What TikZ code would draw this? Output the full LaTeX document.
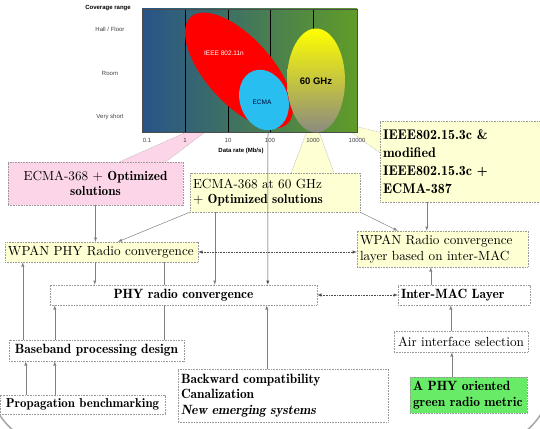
\documentclass[tikz,border=0pt]{standalone}
\usepackage{fontspec}
\setmainfont{lmroman10-regular.otf}[BoldFont=lmromandemi10-regular.otf, ItalicFont=lmroman10-italic.otf,
    BoldItalicFont=lmromandemi10-oblique.otf]
\newfontfamily\chartfont{Liberation Sans}
\usepackage{tikz}
\usetikzlibrary{calc,shapes,arrows}
\definecolor{pinkfill}{RGB}{252,214,232}
\definecolor{yellowfill}{RGB}{255,255,212}
\definecolor{greenfill}{RGB}{104,236,104}
\definecolor{chartleft}{RGB}{40,84,138}
\definecolor{chartright}{RGB}{96,156,40}
\definecolor{ecmablue}{RGB}{40,190,240}
\tikzset{
    box/.style={draw=gray!80, dash pattern=on 0.8pt off 0.8pt, fill=white, inner xsep=3pt, inner ysep=2pt,
        font=\fontsize{13.2}{15.5}\selectfont},
    bbox/.style={box, font=\fontsize{13.4}{15.5}\selectfont\bfseries},
    pointer/.style={draw=gray!70, dash pattern=on 0.8pt off 0.8pt},
    charttext/.style={font=\chartfont\fontsize{6}{7}\selectfont, text=black!75},
    link/.style={draw=gray, line width=0.5pt, -latex},
    plain/.style={draw=gray, line width=0.5pt},
    dlink/.style={draw=gray!60!black, line width=0.5pt, dash pattern=on 0.8pt off 0.8pt, latex-latex}
}
\begin{document}
\begin{tikzpicture}[x=1pt, y=-1pt]
        \useasboundingbox (0,0) rectangle (540,428);
        \draw[gray!70, line width=1.5pt, rounded corners=64pt] (-10,300) -- (-10,445) -- (550,445) -- (550,300);
        \filldraw[pointer, fill=pinkfill] (110,166) -- (232,112) -- (160,166) -- cycle;
        \filldraw[pointer, fill=yellowfill] (290,176) -- (313,115) -- (335,176) -- cycle;
        \filldraw[pointer, fill=yellowfill] (383,133) -- (337,122) -- (383,155) -- cycle;
        \shade[left color=chartleft, right color=chartright] (142,9) rectangle (357,132);
        \foreach \x in {185, 228, 270, 313}
        \draw[black] (\x,9) -- (\x,132);
        \draw[black!70] (142,9) rectangle (357,132);
        \fill[red, rotate around={-48:(239,70.5)}] (239,70.5) ellipse [x radius=72pt, y radius=33pt];
        \fill[ecmablue, rotate around={20:(264,100)}] (264,100) ellipse [x radius=24pt, y radius=31pt];
        \shade[top color=yellow, bottom color={rgb,255:red,138;green,138;blue,128}] (316,80.5) ellipse [x radius=29pt, y radius=52pt];
        \node[charttext, text=white, font=\chartfont\fontsize{6.5}{7}\selectfont] (wifi) at (224,53) {IEEE 802.11n};
        \node[charttext, text=black!80!blue, font=\chartfont\fontsize{6.5}{7}\selectfont] (ecmalbl) at (262,102) {ECMA};
        \node[charttext, text=black, font=\chartfont\bfseries\fontsize{9.5}{10}\selectfont] (sixty) at (316,81) {60 GHz};
        \foreach \x/\v in {147/0.1, 185/1, 228/10, 270/100, 313/1000, 357/10000}
        \node[charttext] (tick\x) at (\x,140) {\v};
        \node[charttext, text=black, font=\chartfont\bfseries\fontsize{6}{7}\selectfont] (covrange) at (108,8) {Coverage range};
        \node[charttext] (hall) at (110,29) {Hall / Floor};
        \node[charttext] (room) at (110,73) {Room};
        \node[charttext] (veryshort) at (110,117) {Very short};
        \node[charttext, text=black, font=\chartfont\bfseries\fontsize{6}{7}\selectfont] (datarate) at (241,151) {Data rate (Mb/s)};
        \coordinate (rate100) at (268,132);
        \node[box, fill=pinkfill, text width=169pt, minimum height=43pt, align=center] (ecmaopt) at (95.5,183.5)
            {ECMA-368 + \textbf{Optimized}\\\textbf{solutions}};
        \node[box, fill=yellowfill, text width=164pt, minimum height=39pt, align=left] (ecmasixty) at (275,192.5)
            {ECMA-368 at 60 GHz\\+ \textbf{Optimized solutions}};
        \node[box, fill=yellowfill, text width=158pt, minimum height=81pt, align=left,
            font=\fontsize{14}{18}\selectfont\bfseries] (ieee) at (462,161.5)
            {IEEE802.15.3c \&\\modified\\IEEE802.15.3c +\\ECMA-387};
        \node[box, fill=yellowfill, text width=187pt, minimum height=20pt, align=left] (wpanphy) at (101.5,252)
            {WPAN PHY Radio convergence};
        \node[box, fill=yellowfill, text width=165pt, minimum height=36pt, align=left] (wpanrad) at (442.5,249)
            {WPAN Radio convergence\\layer based on inter-MAC};
        \node[bbox, text width=261pt, minimum height=20pt, align=center] (phyconv) at (183.5,295) {PHY radio convergence};
        \node[bbox, text width=126pt, minimum height=20pt, align=left] (intermac) at (464,295) {Inter-MAC Layer};
        \node[bbox, text width=169pt, minimum height=21pt, align=center] (baseband) at (96.5,350.5) {Baseband processing design};
        \node[bbox, font=\fontsize{12.9}{15.5}\selectfont\bfseries, text width=159pt, minimum height=19pt, align=center]
            (propag) at (82.5,404.5) {Propagation benchmarking};
        \node[bbox, text width=204pt, minimum height=53pt, align=left] (backward) at (283,395.5)
            {Backward compatibility\\Canalization\\\textit{New emerging systems}};
        \node[box, text width=128pt, minimum height=21pt, align=center] (airsel) at (461,341.5) {Air interface selection};
        \node[bbox, fill=greenfill, text width=111pt, minimum height=36pt, align=left] (greenmetric) at (468.5,395)
            {A PHY oriented\\green radio metric};
        \draw[link] (ecmaopt.south) -- (ecmaopt.south |- wpanphy.north);
        \draw[link] (ecmasixty.south west) -- ($(wpanphy.north west)+(113,0)$);
        \draw[link] ($(ecmasixty.south west)+(25,0)$) -- ($(phyconv.north west)+(165,0)$);
        \draw[link, draw=black!70] (rate100) -- ($(phyconv.north west)+(218,0)$);
        \draw[link] (ecmasixty.south east) -- ($(wpanrad.north west)+(41,0)$);
        \draw[link] ($(ieee.south west)+(47,0)$) -- ($(wpanrad.north west)+(70,0)$);
        \draw[dlink] (wpanphy.east) -- (wpanphy.east -| wpanrad.west);
        \draw[link] ($(wpanphy.south west)+(90,0)$) -- ($(phyconv.north west)+(45,0)$);
        \draw[plain] ($(wpanphy.south west)+(159,0)$) -- ($(phyconv.north west)+(114,0)$);
        \draw[plain] ($(phyconv.south west)+(114,0)$) -- ($(baseband.north west)+(155,0)$);
        \draw[link] ($(baseband.north west)+(14,0)$) -- ($(wpanphy.south west)+(18,0)$);
        \draw[link] ($(baseband.north west)+(46,0)$) -- ($(phyconv.south west)+(5,0)$);
        \draw[link] ($(propag.north west)+(26,0)$) -- ($(baseband.south west)+(17,0)$);
        \draw[link] ($(propag.north west)+(55,0)$) -- ($(baseband.south west)+(46,0)$);
        \draw[link] ($(backward.north west)+(89,0)$) -- ($(phyconv.south west)+(217,0)$);
        \draw[dlink] (phyconv.east) -- (intermac.west);
        \draw[link] ($(intermac.north west)+(33,0)$) -- ($(wpanrad.south west)+(74,0)$);
        \draw[link] ($(airsel.north west)+(57,0)$) -- ($(intermac.south west)+(53,0)$);
        \draw[link] ($(greenmetric.north west)+(42,0)$) -- ($(airsel.south west)+(58,0)$);
\end{tikzpicture}
\end{document}
